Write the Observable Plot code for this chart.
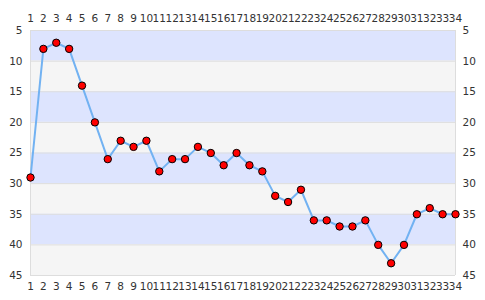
<!DOCTYPE html>
<html>
<head>
<meta charset="utf-8">
<script src="https://cdn.jsdelivr.net/npm/d3@7"></script>
<script src="https://cdn.jsdelivr.net/npm/@observablehq/plot@0.6"></script>
<style>
  html, body { margin: 0; padding: 0; background: #fff; }
  #chart svg { display: block; }
</style>
</head>
<body>
<div id="chart"></div>
<script>
const rounds = [1,2,3,4,5,6,7,8,9,10,11,12,13,14,15,16,17,18,19,20,21,22,23,24,25,26,27,28,29,30,31,32,33,34];
const positions = [29,8,7,8,14,20,26,23,24,23,28,26,26,24,25,27,25,27,28,32,33,31,36,36,37,37,36,40,43,40,35,34,35,35];
const yTicks = [5,10,15,20,25,30,35,40,45];
const bandStarts = [5,10,15,20,25,30,35,40];

const data = rounds.map((r, i) => ({round: r, pos: positions[i]}));
const bands = bandStarts.map((s, i) => ({y1: s, y2: s + 5, i}));

const font = "DejaVu Sans, sans-serif";

const chart = Plot.plot({
  width: 485,
  height: 300,
  marginLeft: 30,
  marginRight: 30,
  marginTop: 30,
  marginBottom: 25,
  style: {fontFamily: font, fontSize: "10.5px", color: "#333", background: "#fff"},
  x: {domain: [1, 34], label: null},
  y: {domain: [5, 45], reverse: true, label: null},
  marks: [
    Plot.rectY(bands, {x1: 1, x2: 34, y1: "y1", y2: "y2", fill: d => d.i % 2 === 0 ? "#dde4fe" : "#f5f5f5"}),
    Plot.ruleY(yTicks, {stroke: "#dddddd", strokeWidth: 1}),
    Plot.ruleX([1, 34], {stroke: "#dddddd", strokeWidth: 1}),
    Plot.line(data, {x: "round", y: "pos", stroke: "#72b2f2", strokeWidth: 2}),
    Plot.dot(data, {x: "round", y: "pos", r: 3.7, fill: "#ff0000", stroke: "#000", strokeWidth: 1}),
    Plot.axisX(rounds, {anchor: "top", tickSize: 0, tickPadding: 9, fill: "#333", label: null, tickFormat: d => String(d)}),
    Plot.axisX(rounds, {anchor: "bottom", tickSize: 0, tickPadding: 7, fill: "#333", label: null, tickFormat: d => String(d)}),
    Plot.axisY(yTicks, {anchor: "left", tickSize: 0, tickPadding: 8, fill: "#333", label: null}),
    Plot.axisY(yTicks, {anchor: "right", tickSize: 0, tickPadding: 7, fill: "#333", label: null})
  ]
});
document.getElementById("chart").appendChild(chart);
</script>
</body>
</html>
